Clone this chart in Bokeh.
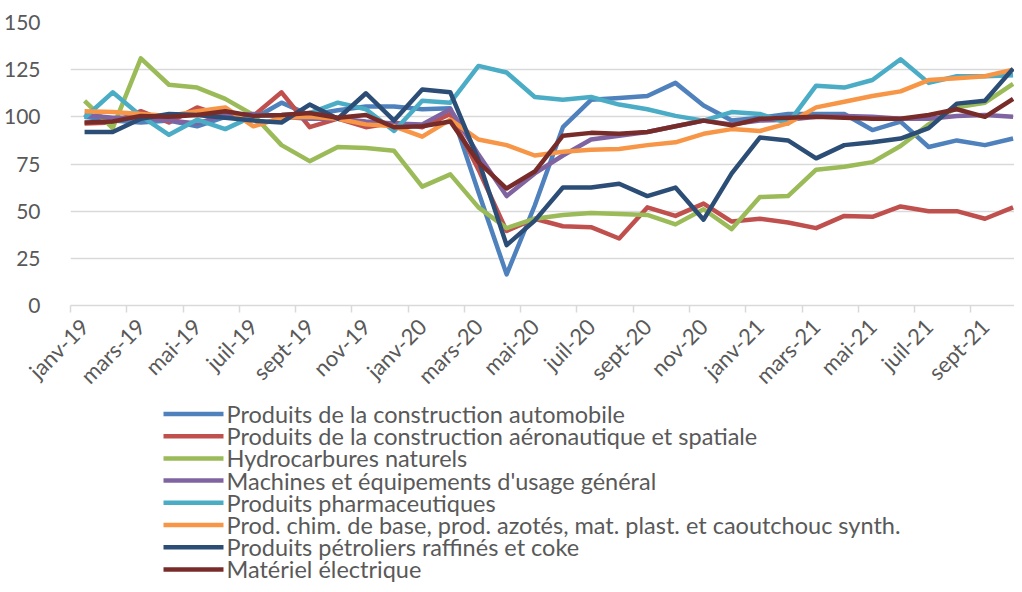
import math
from bokeh.plotting import figure
from bokeh.layouts import column
from bokeh.models import Range1d, FixedTicker
from bokeh.core.properties import value
from bokeh.embed import file_html
from bokeh.resources import INLINE

months = ["janv-19", "févr-19", "mars-19", "avr-19", "mai-19", "juin-19", "juil-19", "août-19",
          "sept-19", "oct-19", "nov-19", "déc-19", "janv-20", "févr-20", "mars-20", "avr-20",
          "mai-20", "juin-20", "juil-20", "août-20", "sept-20", "oct-20", "nov-20", "déc-20",
          "janv-21", "févr-21", "mars-21", "avr-21", "mai-21", "juin-21", "juil-21", "août-21",
          "sept-21", "oct-21"]

y_ticks = [0, 25, 50, 75, 100, 125, 150]

names = [
    "Produits de la construction automobile",
    "Produits de la construction aéronautique et spatiale",
    "Hydrocarbures naturels",
    "Machines et équipements d'usage général",
    "Produits pharmaceutiques",
    "Prod. chim. de base, prod. azotés, mat. plast. et caoutchouc synth.",
    "Produits pétroliers raffinés et coke",
    "Matériel électrique",
]

automobile = [100, 98, 97, 98, 95, 100, 99, 107.5, 101, 103.5, 105.5, 105.5, 104, 104.5,
              60, 16.5, 53, 94.5, 109, 110, 111, 118, 106, 98, 99.5, 101.5, 101.5, 101.5,
              93, 97.5, 84, 87.5, 85, 88.5]
aeronautique = [96.5, 97, 103, 97, 105, 100, 100.5, 113, 94.5, 99, 94.5, 97, 94.5, 101.5,
                72, 39.5, 46, 42, 41.5, 35.5, 52, 47.5, 54, 44.5, 46, 44, 41, 47.5,
                47, 52.5, 50, 50, 46, 52]
hydrocarbures = [108.5, 94, 131, 117, 115.5, 109.5, 101, 85, 76.5, 84, 83.5, 82, 63, 69.5,
                 52, 41, 46, 48, 49, 48.5, 48, 43, 51, 40.5, 57.5, 58, 72, 73.5,
                 76, 84.5, 96, 105, 107.5, 117.5]
machines = [101, 99.5, 99.5, 98, 96.5, 101, 101.5, 100, 99, 99, 97.5, 96.5, 96, 104,
            80, 58, 70, 79.5, 88, 90, 92, 95, 98, 96, 98, 98.5, 100, 100.5,
            100, 99, 99, 100.5, 101, 100]
pharma = [99.5, 113, 100.5, 90.5, 98.5, 93.5, 100.5, 101, 102, 107.5, 104, 92.5, 108.5, 107.5,
          127, 123.5, 110.5, 109, 110.5, 106.5, 104, 100.5, 98, 102.5, 101.5, 96.5, 116.5, 115.5,
          119.5, 130.5, 118, 121.5, 121.5, 122]
chimie = [103, 102.5, 101.5, 100.5, 103, 105, 95, 99.5, 100, 99, 96, 95, 89.5, 98.5,
          88, 85, 79.5, 81.5, 82.5, 83, 85, 86.5, 91, 93.5, 92.5, 96.5, 105, 108,
          111, 113.5, 119.5, 120.5, 121.5, 125]
petroliers = [92, 92, 99, 101.5, 101, 99.5, 98, 97, 106.5, 99, 112.5, 98, 114.5, 113,
              77, 32, 45, 62.5, 62.5, 64.5, 58, 62.5, 45.5, 70, 89, 87.5, 78, 85,
              86.5, 88.5, 94, 107, 108.5, 125.5]
electrique = [97, 97.5, 100.5, 100, 101, 103, 100.5, 101, 102, 99.5, 101, 94.5, 95, 97.5,
              76, 62, 71, 90, 91.5, 91, 92, 95, 98, 95.5, 99, 99.5, 100, 99.5,
              99, 99, 101, 104, 100, 109.5]

series = [automobile, aeronautique, hydrocarbures, machines, pharma, chimie, petroliers, electrique]
colors = ["#4F81BD", "#C0504D", "#9BBB59", "#8064A2", "#4BACC6", "#F79646", "#2C4D75", "#772C2A"]

FONT = "Lato"
GRAY = "#d9d9d9"
TXT = "#595959"

W = 1014
P_H = 401
LG_H = 584 - P_H

x = list(range(len(months)))

p = figure(width=W, height=P_H, output_backend="svg", toolbar_location=None,
           x_range=Range1d(-0.5, 33.05), y_range=Range1d(0, 150),
           min_border_left=69, min_border_right=0, min_border_top=22, min_border_bottom=96)
p.frame_align = False
p.outline_line_color = None
p.xgrid.visible = False
p.ygrid.grid_line_color = GRAY
p.ygrid.grid_line_width = 1.5

p.yaxis.ticker = FixedTicker(ticks=y_ticks)
p.yaxis.axis_line_color = None
p.yaxis.major_tick_line_color = None
p.yaxis.minor_tick_line_color = None
p.yaxis.major_label_text_font = FONT
p.yaxis.major_label_text_font_size = "21px"
p.yaxis.major_label_text_color = TXT
p.yaxis.major_label_standoff = 24

label_ticks = list(range(0, len(months), 2))
p.xaxis.ticker = FixedTicker(ticks=label_ticks, minor_ticks=[t - 0.5 for t in range(0, len(months) + 1, 2)])
p.xaxis.major_label_overrides = {i: months[i] for i in label_ticks}
p.xaxis.major_label_orientation = math.pi / 4
p.xaxis.major_tick_line_color = None
p.xaxis.minor_tick_line_color = GRAY
p.xaxis.minor_tick_line_width = 1.5
p.xaxis.minor_tick_out = 7
p.xaxis.minor_tick_in = 0
p.xaxis.axis_line_color = GRAY
p.xaxis.axis_line_width = 1.5
p.xaxis.major_label_text_font = FONT
p.xaxis.major_label_text_font_size = "22px"
p.xaxis.major_label_text_color = TXT
p.xaxis.major_label_standoff = 10

for vals, c in zip(series, colors):
    p.line(x, vals, line_color=c, line_width=4.5, line_join="round")

# legend drawn in a pixel-mapped panel below the chart
lg = figure(width=W, height=LG_H, output_backend="svg", toolbar_location=None,
            x_range=Range1d(0, W), y_range=Range1d(0, LG_H),
            x_axis_location=None, y_axis_location=None,
            min_border_left=0, min_border_right=0, min_border_top=0, min_border_bottom=0)
lg.frame_align = False
lg.outline_line_color = None
lg.grid.visible = False

row_h = 22.2
first = 12.5
ys = [LG_H - (first + row_h * i) for i in range(len(names))]
lg.segment(x0=[163] * len(names), x1=[223] * len(names), y0=ys, y1=ys,
           line_color=colors, line_width=4.5)
lg.text(x=[226] * len(names), y=ys, text=names, text_font=value(FONT),
        text_font_size="23.5px", text_color=TXT, text_baseline="middle", text_align="left")

layout = column(p, lg, spacing=0)
open("out.html", "w").write(file_html(layout, INLINE))
